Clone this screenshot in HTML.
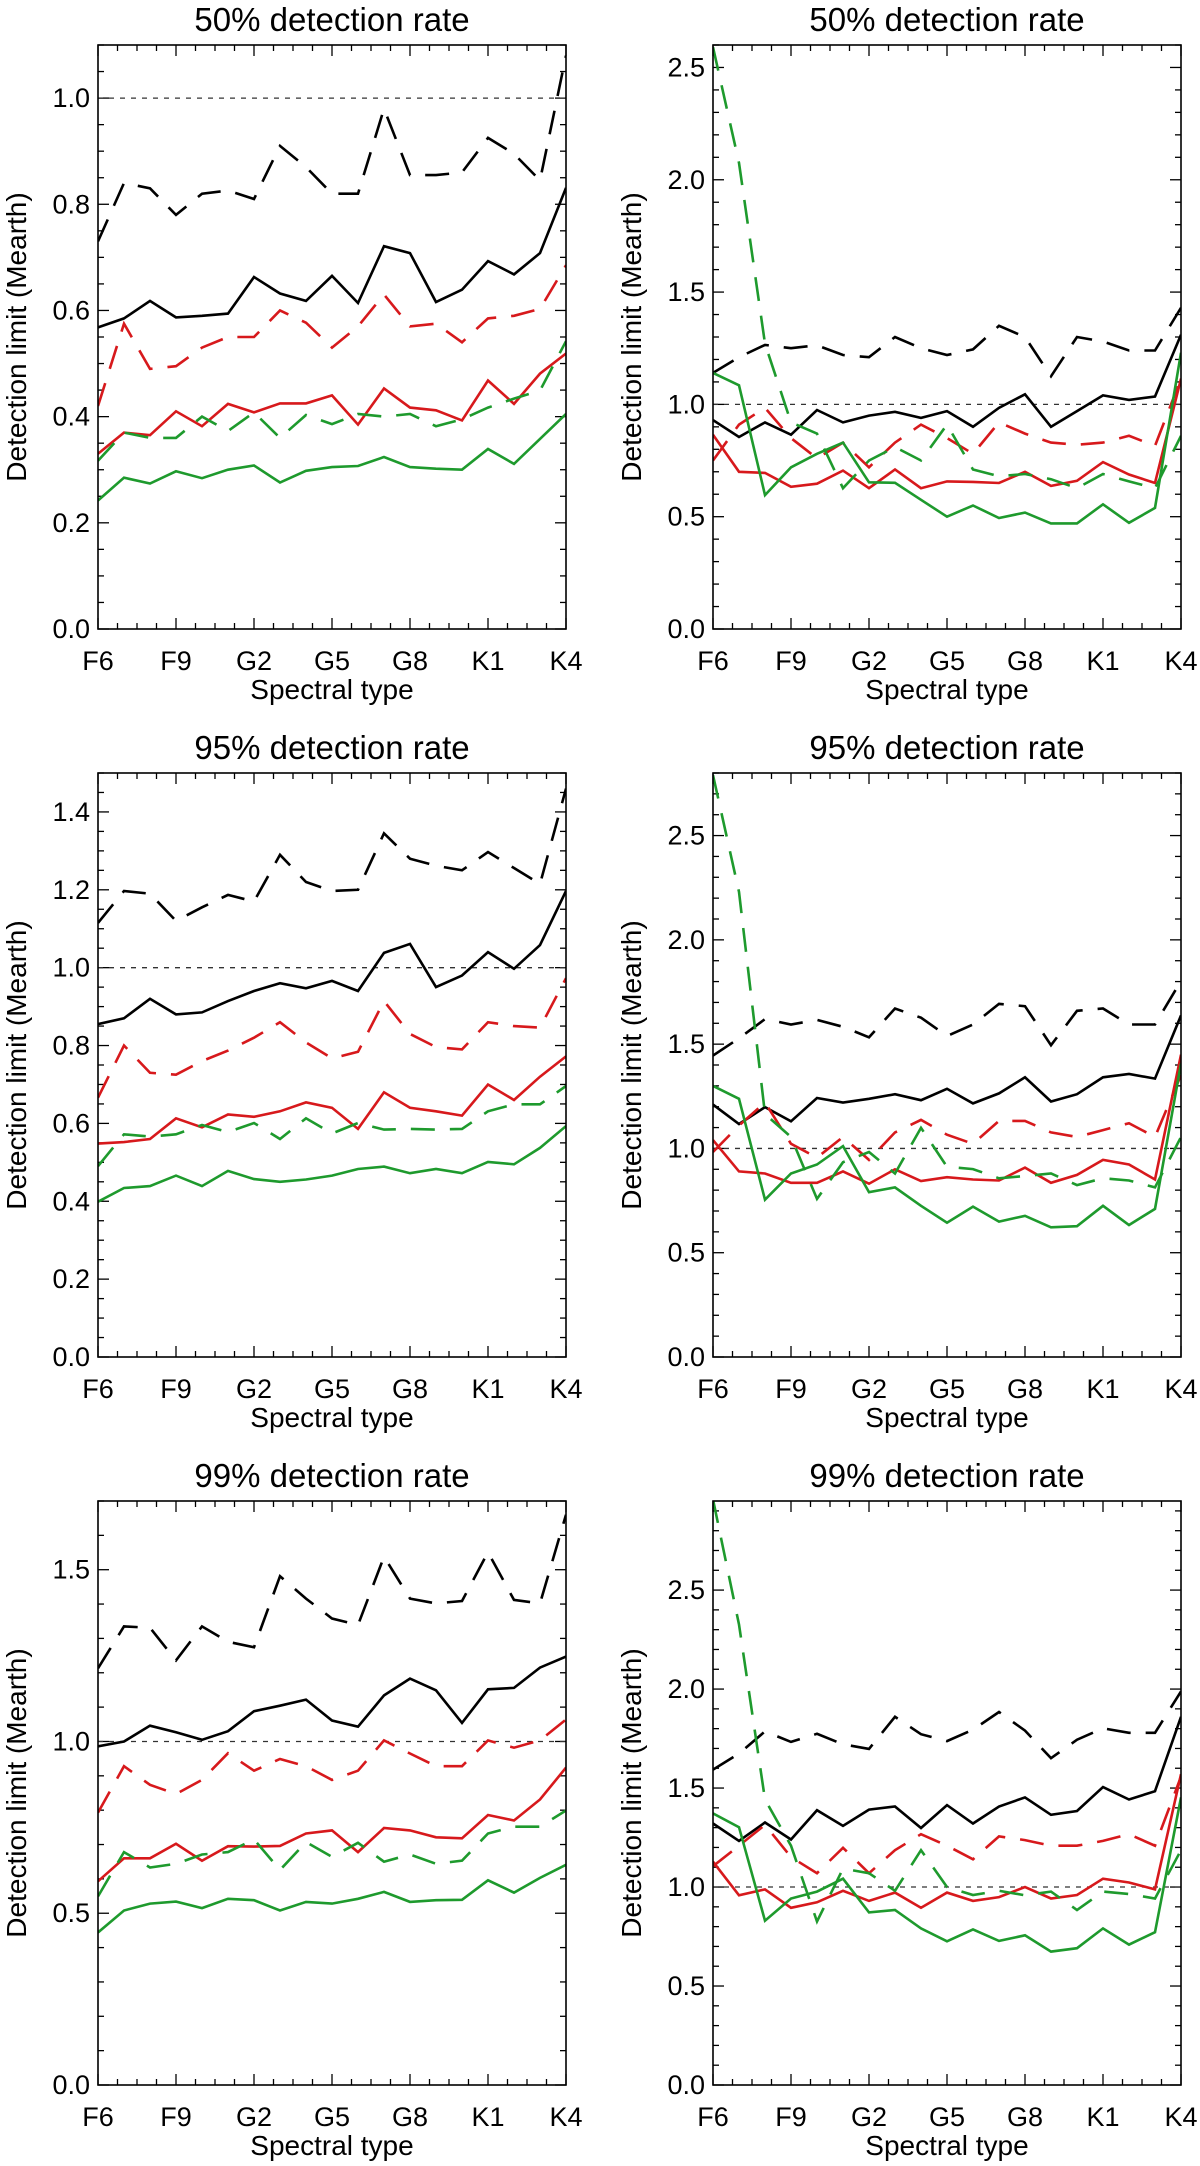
<!DOCTYPE html>
<html><head><meta charset="utf-8"><style>
html,body{margin:0;padding:0;background:#fff;}
svg{display:block;}
text{font-family:"Liberation Sans",Arial,sans-serif;fill:#000;}
</style></head><body>
<svg id="fig" width="1200" height="2166" viewBox="0 0 1200 2166" xmlns="http://www.w3.org/2000/svg"></svg>
<script>
// categories
const spectralTypes = ["F6","F7","F8","F9","G0","G1","G2","G3","G4","G5","G6","G7","G8","G9","K0","K1","K2","K3","K4"];
const majorLabels = ["F6","F9","G2","G5","G8","K1","K4"];
const panelTitles = ["50% detection rate","50% detection rate","95% detection rate","95% detection rate","99% detection rate","99% detection rate"];
const yMax = [1.1, 2.6, 1.5, 2.8, 1.7, 2.95];
const yMajorStep = [0.2, 0.5, 0.2, 0.5, 0.5, 0.5];
const yMinorStep = [0.05, 0.1, 0.05, 0.1, 0.1, 0.1];

// panel 1: 50% left
const p1BlackDash = [0.73,0.84,0.83,0.78,0.82,0.826,0.81,0.91,0.87,0.82,0.82,0.98,0.855,0.855,0.86,0.925,0.895,0.845,1.08];
const p1BlackSolid = [0.568,0.585,0.618,0.587,0.590,0.594,0.663,0.632,0.618,0.665,0.614,0.721,0.708,0.616,0.639,0.693,0.668,0.708,0.831];
const p1RedDash = [0.42,0.575,0.49,0.495,0.53,0.55,0.55,0.60,0.577,0.53,0.57,0.63,0.57,0.575,0.54,0.585,0.59,0.603,0.685];
const p1RedSolid = [0.33,0.37,0.365,0.41,0.382,0.424,0.408,0.425,0.425,0.44,0.385,0.453,0.417,0.412,0.393,0.468,0.424,0.481,0.519];
const p1GreenDash = [0.317,0.37,0.36,0.36,0.40,0.373,0.408,0.36,0.403,0.386,0.405,0.40,0.405,0.382,0.395,0.417,0.434,0.449,0.542];
const p1GreenSolid = [0.242,0.285,0.274,0.297,0.284,0.30,0.308,0.276,0.298,0.305,0.307,0.324,0.305,0.302,0.30,0.339,0.311,0.358,0.405];
// panel 2: 50% right
const p2BlackDash = [1.14,1.21,1.265,1.25,1.263,1.22,1.21,1.30,1.25,1.22,1.245,1.35,1.30,1.125,1.30,1.28,1.24,1.24,1.43];
const p2BlackSolid = [0.93,0.855,0.92,0.865,0.975,0.92,0.95,0.967,0.94,0.97,0.90,0.985,1.045,0.90,0.97,1.04,1.02,1.035,1.31];
const p2RedDash = [0.75,0.91,0.985,0.85,0.76,0.83,0.72,0.83,0.91,0.85,0.78,0.92,0.87,0.83,0.82,0.83,0.86,0.815,1.115];
const p2RedSolid = [0.865,0.70,0.695,0.633,0.647,0.705,0.627,0.71,0.627,0.657,0.655,0.65,0.70,0.637,0.66,0.743,0.688,0.65,1.115];
const p2GreenDash = [2.59,2.075,1.27,0.92,0.87,0.627,0.75,0.81,0.75,0.91,0.71,0.68,0.69,0.667,0.627,0.69,0.657,0.627,0.86];
const p2GreenSolid = [1.14,1.085,0.596,0.72,0.78,0.83,0.653,0.651,0.575,0.50,0.55,0.494,0.518,0.47,0.47,0.555,0.473,0.539,1.23];
// panel 3: 95% left
const p3BlackDash = [1.115,1.197,1.19,1.12,1.155,1.187,1.17,1.29,1.22,1.197,1.20,1.345,1.28,1.262,1.25,1.297,1.256,1.215,1.46];
const p3BlackSolid = [0.855,0.87,0.92,0.88,0.885,0.914,0.94,0.96,0.947,0.966,0.94,1.038,1.061,0.95,0.98,1.04,0.997,1.058,1.197];
const p3RedDash = [0.666,0.80,0.73,0.725,0.76,0.787,0.82,0.86,0.808,0.767,0.784,0.914,0.83,0.796,0.79,0.86,0.85,0.846,0.973];
const p3RedSolid = [0.548,0.552,0.56,0.613,0.59,0.623,0.617,0.631,0.654,0.64,0.586,0.68,0.64,0.631,0.62,0.70,0.66,0.72,0.772];
const p3GreenDash = [0.49,0.572,0.566,0.572,0.596,0.578,0.601,0.56,0.613,0.574,0.601,0.584,0.586,0.584,0.586,0.631,0.649,0.649,0.696];
const p3GreenSolid = [0.399,0.434,0.439,0.466,0.439,0.478,0.457,0.45,0.456,0.466,0.483,0.489,0.472,0.483,0.472,0.501,0.495,0.537,0.593];
// panel 4: 95% right
const p4BlackDash = [1.445,1.528,1.62,1.594,1.616,1.583,1.533,1.671,1.627,1.539,1.594,1.693,1.682,1.495,1.66,1.671,1.594,1.594,1.803];
const p4BlackSolid = [1.21,1.117,1.198,1.13,1.242,1.22,1.238,1.26,1.231,1.286,1.216,1.264,1.341,1.225,1.26,1.341,1.357,1.335,1.638];
const p4RedDash = [0.983,1.11,1.22,1.022,0.956,1.055,0.945,1.077,1.137,1.066,1.022,1.132,1.132,1.077,1.055,1.088,1.121,1.055,1.352];
const p4RedSolid = [1.04,0.89,0.88,0.835,0.835,0.89,0.831,0.90,0.844,0.862,0.851,0.846,0.908,0.835,0.873,0.945,0.923,0.851,1.45];
const p4GreenDash = [2.79,2.23,1.165,1.055,0.758,0.934,0.983,0.88,1.099,0.912,0.901,0.857,0.868,0.88,0.824,0.857,0.846,0.813,1.055];
const p4GreenSolid = [1.30,1.238,0.754,0.88,0.923,1.011,0.79,0.813,0.725,0.644,0.721,0.649,0.677,0.622,0.627,0.725,0.633,0.71,1.407];
// panel 5: 99% left
const p5BlackDash = [1.213,1.335,1.331,1.236,1.335,1.29,1.274,1.481,1.416,1.358,1.339,1.538,1.416,1.402,1.409,1.551,1.412,1.402,1.66];
const p5BlackSolid = [0.986,1.0,1.046,1.027,1.005,1.03,1.088,1.104,1.122,1.061,1.043,1.134,1.183,1.149,1.054,1.152,1.156,1.215,1.247];
const p5RedDash = [0.793,0.928,0.874,0.847,0.888,0.966,0.915,0.949,0.928,0.888,0.915,1.003,0.965,0.928,0.928,1.003,0.982,1.003,1.064];
const p5RedSolid = [0.593,0.66,0.66,0.702,0.653,0.695,0.694,0.696,0.732,0.741,0.678,0.748,0.741,0.721,0.718,0.786,0.77,0.831,0.924];
const p5GreenDash = [0.549,0.678,0.633,0.644,0.671,0.678,0.715,0.626,0.707,0.664,0.705,0.65,0.671,0.644,0.653,0.732,0.752,0.752,0.799];
const p5GreenSolid = [0.444,0.508,0.528,0.534,0.515,0.542,0.538,0.508,0.533,0.528,0.542,0.562,0.533,0.538,0.539,0.596,0.56,0.603,0.641];
// panel 6: 99% right
const p6BlackDash = [1.593,1.674,1.786,1.733,1.774,1.721,1.698,1.86,1.772,1.737,1.795,1.884,1.79,1.651,1.744,1.802,1.779,1.779,1.988];
const p6BlackSolid = [1.321,1.233,1.326,1.24,1.388,1.309,1.391,1.407,1.298,1.414,1.321,1.407,1.453,1.365,1.384,1.505,1.442,1.484,1.86];
const p6RedDash = [1.105,1.209,1.314,1.151,1.07,1.198,1.07,1.186,1.267,1.209,1.14,1.256,1.237,1.209,1.209,1.233,1.267,1.209,1.558];
const p6RedSolid = [1.128,0.958,0.988,0.895,0.923,0.981,0.93,0.972,0.895,0.972,0.93,0.949,1.0,0.942,0.96,1.042,1.023,0.988,1.57];
const p6GreenDash = [2.958,2.326,1.442,1.209,0.826,1.093,1.07,0.981,1.186,1.0,0.96,0.981,0.958,0.977,0.884,0.977,0.965,0.942,1.186];
const p6GreenSolid = [1.372,1.302,0.83,0.942,0.977,1.042,0.872,0.884,0.791,0.726,0.786,0.728,0.756,0.674,0.691,0.791,0.709,0.772,1.453];

const panelSeries = [
  [p1BlackDash,p1BlackSolid,p1RedDash,p1RedSolid,p1GreenDash,p1GreenSolid],
  [p2BlackDash,p2BlackSolid,p2RedDash,p2RedSolid,p2GreenDash,p2GreenSolid],
  [p3BlackDash,p3BlackSolid,p3RedDash,p3RedSolid,p3GreenDash,p3GreenSolid],
  [p4BlackDash,p4BlackSolid,p4RedDash,p4RedSolid,p4GreenDash,p4GreenSolid],
  [p5BlackDash,p5BlackSolid,p5RedDash,p5RedSolid,p5GreenDash,p5GreenSolid],
  [p6BlackDash,p6BlackSolid,p6RedDash,p6RedSolid,p6GreenDash,p6GreenSolid]
];
const seriesNames = ["black-dashed","black-solid","red-dashed","red-solid","green-dashed","green-solid"];

const NS = "http://www.w3.org/2000/svg";
const svg = document.getElementById("fig");
const seriesColor = ["#000","#000","#d7191c","#d7191c","#1e9a2d","#1e9a2d"];
const seriesDash = [true,false,true,false,true,false];
function mk(tag, attrs, parent){
  const e = document.createElementNS(NS, tag);
  for (const k in attrs) e.setAttribute(k, attrs[k]);
  (parent||svg).appendChild(e);
  return e;
}
const colX = [98, 713], rowY = [45, 773, 1501], PW = 468, PH = 584;

for (let p = 0; p < 6; p++) {
  const L = colX[p % 2], T = rowY[Math.floor(p / 2)], R = L + PW, B = T + PH;
  const g = mk("g", {});
  
  
  const n = spectralTypes.length;
  const xs = i => L + i * PW / (n - 1);
  const ys = v => B - v / yMax[p] * PH;

  const t = mk("text", {x: L + PW / 2, y: T - 14, "text-anchor": "middle", "font-size": 33}, g);
  t.textContent = panelTitles[p];
  
  

  const nMin = Math.round(yMax[p] / yMinorStep[p] + 1e-6);
  const ratio = Math.round(yMajorStep[p] / yMinorStep[p]);
  for (let k = 0; k <= nMin; k++) {
    const v = k * yMinorStep[p];
    if (v > yMax[p] + 1e-9) break;
    const y = ys(v);
    const major = k % ratio === 0;
    const len = major ? 11 : 6;
    mk("line", {x1: L, x2: L + len, y1: y, y2: y, stroke: "#000", "stroke-width": 1.3}, g);
    mk("line", {x1: R, x2: R - len, y1: y, y2: y, stroke: "#000", "stroke-width": 1.3}, g);
    if (major) {
      const tl = mk("text", {x: L - 8, y: y + 9, "text-anchor": "end", "font-size": 27}, g);
      tl.textContent = v.toFixed(1);
      
      
    }
  }
  const nMaj = majorLabels.length - 1;
  for (let k = 0; k <= nMaj * 4; k++) {
    const x = L + k * PW / (nMaj * 4);
    const major = k % 4 === 0;
    const len = major ? 11 : 6;
    mk("line", {x1: x, x2: x, y1: B, y2: B - len, stroke: "#000", "stroke-width": 1.3}, g);
    mk("line", {x1: x, x2: x, y1: T, y2: T + len, stroke: "#000", "stroke-width": 1.3}, g);
    if (major) {
      const xl = mk("text", {x: x, y: B + 41, "text-anchor": "middle", "font-size": 27}, g);
      xl.textContent = majorLabels[k / 4];
      
      
    }
  }
  const xt = mk("text", {x: L + PW / 2, y: B + 70, "text-anchor": "middle", "font-size": 28}, g);
  xt.textContent = "Spectral type";
  
  
  const ylx = L - 72, yly = T + PH / 2;
  const yt = mk("text", {x: ylx, y: yly, "text-anchor": "middle", "font-size": 28, transform: "rotate(-90 " + ylx + " " + yly + ")"}, g);
  yt.textContent = "Detection limit (Mearth)";
  
  

  const ref = mk("line", {x1: L, x2: R, y1: ys(1), y2: ys(1), stroke: "#333", "stroke-width": 1.3, "stroke-dasharray": "5 6"}, g);
  
  

  const cp = mk("clipPath", {id: "clip" + p}, g);
  mk("rect", {x: L, y: T, width: PW, height: PH}, cp);
  for (let s = 0; s < 6; s++) {
    const vals = panelSeries[p][s];
    const pts = vals.map((v, i) => xs(i).toFixed(1) + "," + ys(v).toFixed(1)).join(" ");
    const attrs = {points: pts, fill: "none", stroke: seriesColor[s], "stroke-width": 2.6, "stroke-linejoin": "miter", "clip-path": "url(#clip" + p + ")"};
    if (seriesDash[s]) attrs["stroke-dasharray"] = "24 15";
    const pl = mk("polyline", attrs, g);
    
    
  }
  const fr = mk("rect", {x: L, y: T, width: PW, height: PH, fill: "none", stroke: "#000", "stroke-width": 1.6}, g);
  
  
}
</script>
</body></html>
